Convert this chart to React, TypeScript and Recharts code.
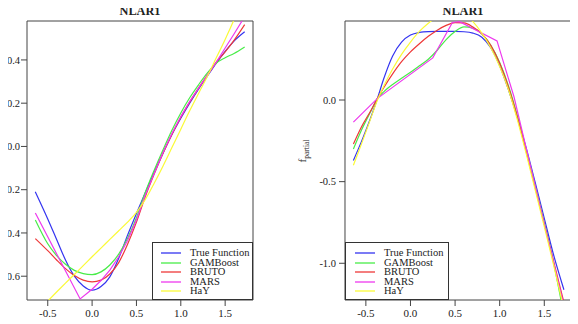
import React from 'react';
import { LineChart, Line, XAxis, YAxis, ReferenceArea, Legend } from 'recharts';

// Series labels and colours, in drawing order
const seriesNames = ['True Function', 'GAMBoost', 'BRUTO', 'MARS', 'HaY'];
const seriesColors = ['#3434f0', '#48ec48', '#ee3838', '#ee38ee', '#fafa36'];

// Axis ticks
const xTicks = [-0.5, 0, 0.5, 1, 1.5];
const leftYTicks = [-0.6, -0.4, -0.2, 0, 0.2, 0.4];
const rightYTicks = [-1, -0.5, 0];

// ---- Left panel: fitted functions ----
const leftGrid = [-0.64, -0.5, -0.4, -0.3, -0.2, -0.1, 0, 0.1, 0.2, 0.3, 0.4, 0.5, 0.6, 0.7, 0.8, 0.9, 1.0, 1.1, 1.2, 1.3, 1.4, 1.5, 1.6, 1.72];
const leftTrue = [-0.21, -0.335, -0.43, -0.525, -0.6, -0.645, -0.665, -0.648, -0.603, -0.517, -0.41, -0.31, -0.213, -0.12, -0.03, 0.055, 0.13, 0.2, 0.265, 0.325, 0.385, 0.44, 0.487, 0.53];
const leftGamboost = [-0.34, -0.45, -0.505, -0.545, -0.573, -0.588, -0.593, -0.58, -0.548, -0.498, -0.425, -0.33, -0.212, -0.11, -0.015, 0.075, 0.155, 0.225, 0.285, 0.34, 0.385, 0.41, 0.43, 0.46];
const leftBruto = [-0.426, -0.482, -0.525, -0.565, -0.597, -0.618, -0.626, -0.618, -0.59, -0.537, -0.452, -0.35, -0.232, -0.128, -0.032, 0.055, 0.135, 0.205, 0.27, 0.33, 0.39, 0.437, 0.49, 0.563];
const leftHay = [-0.775, -0.715, -0.673, -0.632, -0.592, -0.551, -0.51, -0.47, -0.43, -0.39, -0.35, -0.305, -0.245, -0.17, -0.09, -0.005, 0.08, 0.165, 0.245, 0.325, 0.41, 0.495, 0.585, 0.69];
const leftMarsX = [-0.64, -0.135, 0.0, 0.1, 0.2, 0.3, 0.4, 0.5, 0.6, 0.7, 0.8, 0.9, 1.0, 1.1, 1.2, 1.3, 1.4, 1.5, 1.6, 1.72];
const leftMarsY = [-0.308, -0.705, -0.66, -0.62, -0.572, -0.51, -0.435, -0.34, -0.225, -0.125, -0.028, 0.06, 0.138, 0.208, 0.27, 0.33, 0.39, 0.455, 0.52, 0.6];

// ---- Right panel: partial functions ----
const rightGrid = [-0.64, -0.55, -0.45, -0.37, -0.3, -0.2, -0.1, 0, 0.1, 0.2, 0.3, 0.4, 0.5, 0.6, 0.7, 0.8, 0.9, 1.0, 1.1, 1.2, 1.3, 1.4, 1.5, 1.6, 1.72];
const rightTrue = [-0.37, -0.255, -0.115, 0.01, 0.13, 0.27, 0.355, 0.398, 0.414, 0.419, 0.42, 0.42, 0.42, 0.418, 0.41, 0.385, 0.32, 0.21, 0.06, -0.11, -0.3, -0.51, -0.725, -0.94, -1.162];
const rightGamboost = [-0.3, -0.185, -0.075, 0.01, 0.05, 0.095, 0.133, 0.17, 0.21, 0.25, 0.305, 0.37, 0.42, 0.448, 0.44, 0.405, 0.335, 0.23, 0.085, -0.1, -0.31, -0.53, -0.75, -0.985, -1.32];
const rightBruto = [-0.27, -0.165, -0.07, 0.01, 0.075, 0.16, 0.235, 0.295, 0.345, 0.39, 0.428, 0.457, 0.474, 0.472, 0.447, 0.405, 0.335, 0.225, 0.075, -0.11, -0.32, -0.54, -0.76, -0.98, -1.24];
const rightHay = [-0.4, -0.27, -0.12, 0.0, 0.085, 0.19, 0.28, 0.355, 0.42, 0.47, 0.51, 0.535, 0.54, 0.525, 0.48, 0.41, 0.32, 0.205, 0.06, -0.125, -0.335, -0.555, -0.775, -1.0, -1.28];
const rightMarsX = [-0.64, -0.37, 0.25, 0.47, 0.55, 0.97, 1.16, 1.4, 1.6, 1.72];
const rightMarsY = [-0.135, 0.01, 0.258, 0.475, 0.48, 0.362, 0.02, -0.53, -0.985, -1.26];

const X_DOMAIN: [number, number] = [-0.734, 1.814];
const SERIF = '"Liberation Serif", "DejaVu Serif", serif';

type Pt = { x: number; y: number };
const pairs = (xs: number[], ys: number[]): Pt[] => xs.map((x, i) => ({ x, y: ys[i] }));

type SeriesDef = { name: string; color: string; data: Pt[]; curve: 'monotone' | 'linear' };

const buildSeries = (grid: number[], tru: number[], gam: number[], bru: number[], marsX: number[], marsY: number[], hay: number[]): SeriesDef[] => [
  { name: seriesNames[0], color: seriesColors[0], data: pairs(grid, tru), curve: 'monotone' },
  { name: seriesNames[1], color: seriesColors[1], data: pairs(grid, gam), curve: 'monotone' },
  { name: seriesNames[2], color: seriesColors[2], data: pairs(grid, bru), curve: 'monotone' },
  { name: seriesNames[3], color: seriesColors[3], data: pairs(marsX, marsY), curve: 'linear' },
  { name: seriesNames[4], color: seriesColors[4], data: pairs(grid, hay), curve: 'monotone' },
];

const leftSeries = buildSeries(leftGrid, leftTrue, leftGamboost, leftBruto, leftMarsX, leftMarsY, leftHay);
const rightSeries = buildSeries(rightGrid, rightTrue, rightGamboost, rightBruto, rightMarsX, rightMarsY, rightHay);

const fmt = (v: number) => v.toFixed(1);

// y tick label, right-aligned just left of the tick mark
const makeYTick = (anchorX: number) => (props: any) => (
  <text x={anchorX} y={props.y} dy="0.35em" textAnchor="end" fontFamily="Liberation Serif" fontSize={10.5} fill="#222">
    {fmt(props.payload.value)}
  </text>
);

// x tick label, centred under the tick mark
const XTick = (props: any) => (
  <text x={props.x} y={props.y} dy="0.71em" textAnchor="middle" fontFamily="Liberation Serif" fontSize={11} fill="#222">
    {fmt(props.payload.value)}
  </text>
);

type LegendBox = { left: number; top: number; width: number; height: number; lineX: number; textX: number };

const makeLegend = (box: LegendBox) => (props: any) => {
  const payload: any[] = props.payload || [];
  const ordered = seriesNames
    .map((n) => payload.find((p) => p.value === n))
    .filter(Boolean);
  return (
    <div
      style={{
        width: box.width,
        height: box.height,
        boxSizing: 'border-box',
        border: '1px solid #333',
        background: '#fff',
        paddingTop: 5,
        fontFamily: SERIF,
        fontSize: 10.5,
        color: '#222',
      }}
    >
      {ordered.map((p: any) => (
        <div key={p.value} style={{ position: 'relative', height: 9.6, lineHeight: '9.6px', whiteSpace: 'nowrap' }}>
          <svg width={20} height={4} style={{ position: 'absolute', left: box.lineX, top: 3 }}>
            <line x1={0} y1={2} x2={20} y2={2} stroke={p.color} strokeWidth={1.3} />
          </svg>
          <span style={{ position: 'absolute', left: box.textX, top: 0 }}>{p.value}</span>
        </div>
      ))}
    </div>
  );
};

type PanelProps = {
  left: number;
  width: number;
  yAxisWidth: number;
  labelX: number;
  rightMargin: number;
  yDomain: [number, number];
  yTicks: number[];
  series: SeriesDef[];
  legend: LegendBox;
};

const Panel = ({ left, width, yAxisWidth, labelX, rightMargin, yDomain, yTicks, series, legend }: PanelProps) => (
  <div style={{ position: 'absolute', left, top: 0 }}>
    <LineChart width={width} height={324} margin={{ top: 21, right: rightMargin, bottom: 0, left: 0 }}>
      <XAxis
        type="number"
        dataKey="x"
        domain={X_DOMAIN}
        ticks={xTicks}
        interval={0}
        allowDataOverflow
        axisLine={false}
        tickSize={6}
        tickMargin={3}
        height={24}
        tick={XTick}
        tickLine={{ stroke: '#444' }}
      />
      <YAxis
        type="number"
        dataKey="y"
        domain={yDomain}
        ticks={yTicks}
        interval={0}
        allowDataOverflow
        axisLine={false}
        width={yAxisWidth}
        tickSize={6}
        tick={makeYTick(labelX)}
        tickLine={{ stroke: '#444' }}
      />
      {series.map((s) => (
        <Line
          key={s.name}
          data={s.data}
          dataKey="y"
          name={s.name}
          type={s.curve}
          stroke={s.color}
          strokeWidth={1.2}
          dot={false}
          activeDot={false}
          isAnimationActive={false}
        />
      ))}
      <ReferenceArea
        x1={X_DOMAIN[0]}
        x2={X_DOMAIN[1]}
        y1={yDomain[0]}
        y2={yDomain[1]}
        fill="none"
        stroke="#444"
        strokeWidth={1}
        ifOverflow="visible"
      />
      <Legend
        layout="horizontal"
        verticalAlign="middle"
        align="center"
        wrapperStyle={{ left: legend.left, top: legend.top, width: legend.width, height: legend.height }}
        content={makeLegend(legend)}
      />
    </LineChart>
  </div>
);

const titleStyle = (cx: number): React.CSSProperties => ({
  position: 'absolute',
  left: cx - 50,
  top: 4.8,
  width: 100,
  textAlign: 'center',
  fontFamily: SERIF,
  fontWeight: 'bold',
  fontSize: 12.3,
  lineHeight: '12.3px',
  color: '#222',
});

export default function App() {
  return (
    <div style={{ position: 'relative', width: 578, height: 324, margin: '-8px 0 0 -8px', background: '#fff', overflow: 'hidden' }}>
      <Panel
        left={0}
        width={290}
        yAxisWidth={27}
        labelX={20}
        rightMargin={37}
        yDomain={[-0.71, 0.58]}
        yTicks={leftYTicks}
        series={leftSeries}
        legend={{ left: 152, top: 242, width: 101, height: 58, lineX: 8, textX: 37 }}
      />
      <Panel
        left={289}
        width={289}
        yAxisWidth={56}
        labelX={47}
        rightMargin={5.7}
        yDomain={[-1.225, 0.484]}
        yTicks={rightYTicks}
        series={rightSeries}
        legend={{ left: 56, top: 242, width: 104, height: 58, lineX: 9, textX: 38 }}
      />
      <div style={titleStyle(140)}>NLAR1</div>
      <div style={titleStyle(463)}>NLAR1</div>
      <div
        style={{
          position: 'absolute',
          left: 302 - 20,
          top: 151 - 7,
          width: 40,
          height: 14,
          textAlign: 'center',
          transform: 'rotate(-90deg)',
          fontFamily: SERIF,
          fontSize: 11,
          lineHeight: '14px',
          color: '#222',
          whiteSpace: 'nowrap',
        }}
      >
        f<span style={{ fontSize: 7.5, position: 'relative', top: 2.5 }}>partial</span>
      </div>
    </div>
  );
}
